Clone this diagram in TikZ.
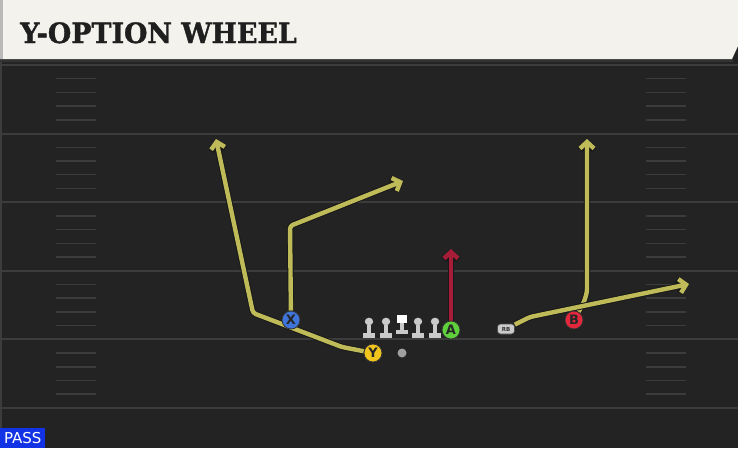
\documentclass[tikz,border=0pt]{standalone}
\usepackage{fontspec}
\setsansfont{DejaVu Sans}
\newfontfamily\titlefont[FakeBold=1.3,FakeStretch=0.96]{DejaVu Serif}
\newfontfamily\passfont{DejaVu Sans}
\usetikzlibrary{arrows.meta}
\definecolor{fieldbg}{HTML}{232323}
\definecolor{yardgray}{HTML}{3C3C3C}
\definecolor{titlebg}{HTML}{F4F2EC}
\definecolor{routeyellow}{HTML}{BEBB58}
\definecolor{routered}{HTML}{A51D38}
\definecolor{xblue}{HTML}{3F74DA}
\definecolor{yyellow}{HTML}{F2C51C}
\definecolor{agreen}{HTML}{5ED03C}
\definecolor{bred}{HTML}{E2283C}
\definecolor{passblue}{HTML}{1232E6}
\definecolor{linegray}{HTML}{CACACA}
\pgfdeclarelayer{field}
\pgfdeclarelayer{routes}
\pgfsetlayers{field,routes,main}
\tikzset{
    yardline/.style={draw=yardgray, line width=2},
    hashmark/.style={draw=yardgray, line width=1.5},
    player/.style={circle, draw=black!80, line width=0.8, minimum size=18, inner sep=0,
        font=\sffamily\bfseries\fontsize{13}{13}\selectfont, text=black!85},
    rbbox/.style={rounded corners=3, fill=linegray, draw=black!70, line width=0.6,
        minimum width=17, minimum height=10, inner sep=0, font=\sffamily\bfseries\fontsize{5.5}{5.5}\selectfont, text=black!80},
    qbdot/.style={circle, fill=gray!75, minimum size=9, inner sep=0},
    route/.style={draw=#1, line width=4.4, line join=round, rounded corners=3,
        -{Straight Barb[length=6.5pt,width=14pt]},
        preaction={draw=black!90, line width=6.4, -{Straight Barb[length=6.5pt,width=14pt]}}},
    lineman/.style={fill=linegray}
}
\begin{document}
\begin{tikzpicture}[x=1pt,y=-1pt]
\useasboundingbox (0,0) rectangle (738,448);

\begin{pgfonlayer}{field}
\fill[fieldbg] (0,0) rectangle (738,448);
\fill[yardgray] (0,59) rectangle (2,448);
\foreach \i in {0,...,5}
    \draw[yardline] (0,{65+68.6*\i}) -- (738,{65+68.6*\i});
\foreach \i in {0,...,4}
    \foreach \j in {1,...,4} {
        \draw[hashmark] (56,{65+68.6*\i+13.7*\j}) -- (96,{65+68.6*\i+13.7*\j});
        \draw[hashmark] (646,{65+68.6*\i+13.7*\j}) -- (686,{65+68.6*\i+13.7*\j});
    }
\fill[black!80] (0,58) rectangle (733,62);
\fill[titlebg] (0,0) -- (738,0) -- (738,46) -- (732,59) -- (0,59) -- cycle;
\fill[gray!55] (0,0) rectangle (3,59);
\end{pgfonlayer}

\node[anchor=base west, inner sep=0, text=black!88,
    font=\titlefont\bfseries\fontsize{28}{28}\selectfont] (title) at (20,43) {Y-OPTION WHEEL};

\node[fill=passblue, text=white, anchor=south west, minimum width=45, minimum height=20, inner sep=0,
    font=\passfont\fontsize{15}{15}\selectfont] (pass) at (0,448) {PASS};

\foreach \x in {369,386,418,435} {
    \fill[lineman] (\x-6,338) rectangle (\x+6,333);
    \fill[lineman] (\x-2.4,333) rectangle (\x+2.4,325);
    \fill[lineman] (\x,321.5) ellipse (4.2 and 3.8);
}
\fill[white] (397,315) rectangle (407,323);
\fill[lineman] (399.6,323) rectangle (404.4,330);
\fill[lineman] (396,330) rectangle (408,334);

\node[player, fill=xblue] (X) at (291,320) {X};
\node[player, fill=yyellow] (Y) at (373,353) {Y};
\node[player, fill=agreen] (A) at (451,330) {A};
\node[player, fill=bred] (B) at (574,320) {B};
\node[rbbox] (RB) at (506,329) {RB};
\node[qbdot] (QB) at (402,353) {};

\coordinate (yBend) at (342,347);
\coordinate (yBreak) at (253,313);
\coordinate (yEnd) at (216,139);
\coordinate (xBreak) at (290,226);
\coordinate (xEnd) at (403,181);
\coordinate (aEnd) at (451,249);
\coordinate (rbBend) at (530,317);
\coordinate (rbEnd) at (689,284);
\coordinate (bBreak) at (584,302);
\coordinate (bEnd) at (587,139);

\begin{pgfonlayer}{routes}
\draw[route=routeyellow] (Y) -- (yBend) -- (yBreak) -- (yEnd);
\draw[route=routeyellow] (X) -- (xBreak) -- (xEnd);
\draw[route=routered] (A) -- (aEnd);
\draw[route=routeyellow] (B) -- (bBreak) -- (587,292) -- (bEnd);
\draw[route=routeyellow] (RB) -- (rbBend) -- (rbEnd);
\end{pgfonlayer}
\end{tikzpicture}
\end{document}
